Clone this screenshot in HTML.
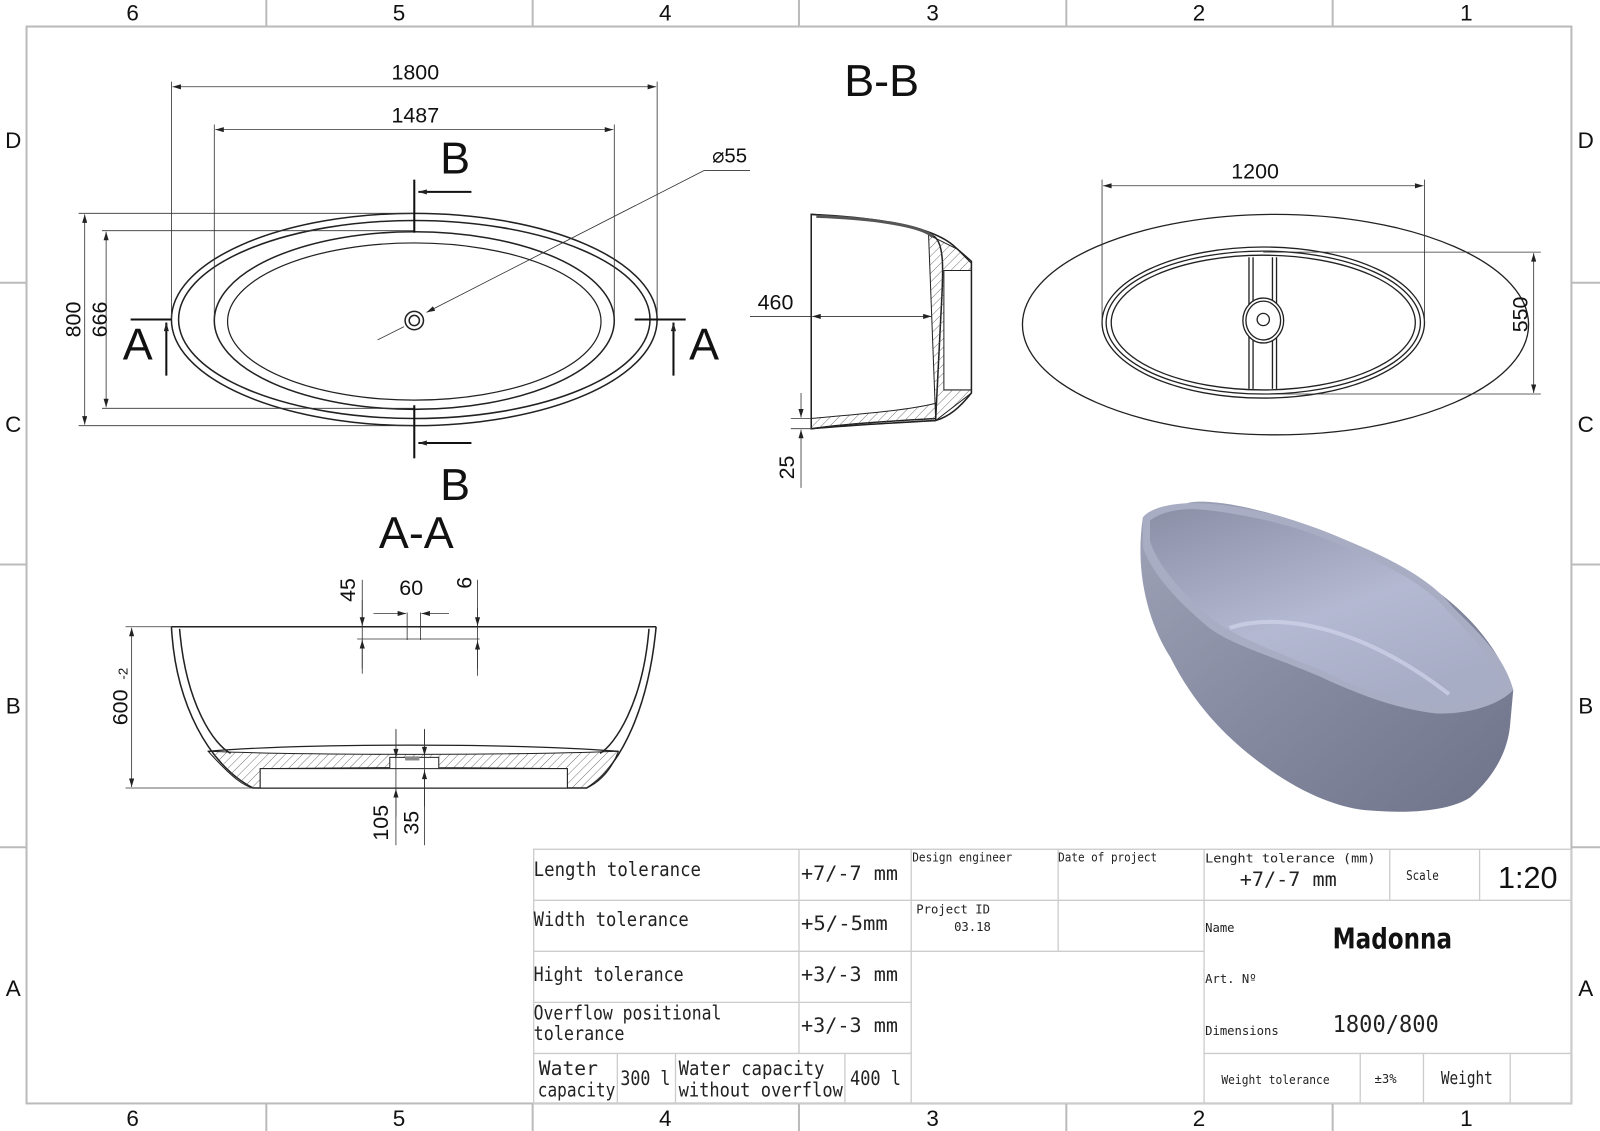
<!DOCTYPE html>
<html><head><meta charset="utf-8"><style>
html,body{margin:0;padding:0;background:#fff;}
svg{display:block;}
text{font-family:"Liberation Sans",sans-serif;fill:#111;}
.m{font-family:"DejaVu Sans Mono","Liberation Mono",monospace;fill:#222;}
</style></head><body>
<svg width="1600" height="1131" viewBox="0 0 1568 1108" preserveAspectRatio="none" xmlns="http://www.w3.org/2000/svg">
<defs>
<marker id="ar" viewBox="0 0 10 6" refX="10" refY="3" markerWidth="14" markerHeight="5" orient="auto-start-reverse" markerUnits="userSpaceOnUse"><path d="M0,0 L10,3 L0,6 Z" fill="#222"/></marker>
<pattern id="h" width="6" height="6" patternUnits="userSpaceOnUse" patternTransform="rotate(45)"><line x1="0" y1="0" x2="0" y2="6" stroke="#555" stroke-width="0.8"/></pattern>
<linearGradient id="tg" x1="0" y1="0" x2="1" y2="1"><stop offset="0" stop-color="#9ea3b8"/><stop offset="0.5" stop-color="#858aa0"/><stop offset="1" stop-color="#6f738a"/></linearGradient>
<linearGradient id="ig" x1="0" y1="0" x2="0.6" y2="1"><stop offset="0" stop-color="#8a8fa6"/><stop offset="0.6" stop-color="#b4b9d2"/><stop offset="1" stop-color="#a8adc6"/></linearGradient>
</defs>
<rect width="1568" height="1108" fill="#fff"/>
<g stroke="#bbb" stroke-width="2" fill="none">
<rect x="26" y="26" width="1514" height="1055"/>
<line x1="261" y1="0" x2="261" y2="26"/><line x1="522" y1="0" x2="522" y2="26"/><line x1="783" y1="0" x2="783" y2="26"/><line x1="1045" y1="0" x2="1045" y2="26"/><line x1="1306" y1="0" x2="1306" y2="26"/>
<line x1="261" y1="1081" x2="261" y2="1108"/><line x1="522" y1="1081" x2="522" y2="1108"/><line x1="783" y1="1081" x2="783" y2="1108"/><line x1="1045" y1="1081" x2="1045" y2="1108"/><line x1="1306" y1="1081" x2="1306" y2="1108"/>
<line x1="0" y1="277" x2="26" y2="277"/><line x1="0" y1="553" x2="26" y2="553"/><line x1="0" y1="830" x2="26" y2="830"/>
<line x1="1540" y1="277" x2="1568" y2="277"/><line x1="1540" y1="553" x2="1568" y2="553"/><line x1="1540" y1="830" x2="1568" y2="830"/>
</g>
<g font-size="22" text-anchor="middle">
<text x="130" y="20">6</text><text x="391" y="20">5</text><text x="652" y="20">4</text><text x="914" y="20">3</text><text x="1175" y="20">2</text><text x="1437" y="20">1</text>
<text x="130" y="1103">6</text><text x="391" y="1103">5</text><text x="652" y="1103">4</text><text x="914" y="1103">3</text><text x="1175" y="1103">2</text><text x="1437" y="1103">1</text>
<text x="13" y="145">D</text><text x="13" y="423">C</text><text x="13" y="699">B</text><text x="13" y="976">A</text>
<text x="1554" y="145">D</text><text x="1554" y="423">C</text><text x="1554" y="699">B</text><text x="1554" y="976">A</text>
</g>

<!-- plan view -->
<g fill="none" stroke="#222" stroke-width="1.5">
<ellipse cx="406" cy="313" rx="238" ry="104"/>
<ellipse cx="406" cy="313" rx="231" ry="97"/>
<ellipse cx="406" cy="314" rx="196" ry="87"/>
<ellipse cx="406" cy="315" rx="183" ry="77" stroke-width="1.2"/>
<circle cx="406" cy="314" r="9"/><circle cx="406" cy="314" r="5"/>
</g>
<g stroke="#333" stroke-width="0.8" fill="none">
<line x1="168" y1="80" x2="168" y2="313"/><line x1="644" y1="80" x2="644" y2="313"/>
<line x1="169" y1="85" x2="643" y2="85" marker-start="url(#ar)" marker-end="url(#ar)"/>
<line x1="210" y1="122" x2="210" y2="313"/><line x1="602" y1="122" x2="602" y2="313"/>
<line x1="211" y1="127" x2="601" y2="127" marker-start="url(#ar)" marker-end="url(#ar)"/>
<line x1="77" y1="209" x2="406" y2="209"/><line x1="77" y1="417" x2="406" y2="417"/>
<line x1="83" y1="210" x2="83" y2="416" marker-start="url(#ar)" marker-end="url(#ar)"/>
<line x1="100" y1="226" x2="406" y2="226"/><line x1="100" y1="400" x2="406" y2="400"/>
<line x1="104" y1="227" x2="104" y2="399" marker-start="url(#ar)" marker-end="url(#ar)"/>
<line x1="735" y1="167" x2="690" y2="167"/><line x1="690" y1="167" x2="418" y2="306" marker-end="url(#ar)"/>
<line x1="396" y1="320" x2="370" y2="333"/>
</g>
<g stroke="#111" stroke-width="2" fill="none">
<line x1="406" y1="176" x2="406" y2="228"/><line x1="406" y1="397" x2="406" y2="449"/>
<line x1="462" y1="188" x2="410" y2="188" marker-end="url(#ar)"/>
<line x1="462" y1="434" x2="410" y2="434" marker-end="url(#ar)"/>
<line x1="128" y1="313" x2="168" y2="313"/><line x1="163" y1="368" x2="163" y2="316" marker-end="url(#ar)"/>
<line x1="622" y1="313" x2="672" y2="313"/><line x1="660" y1="368" x2="660" y2="316" marker-end="url(#ar)"/>
</g>
<g text-anchor="middle">
<text x="407" y="78" font-size="21">1800</text>
<text x="407" y="120" font-size="21">1487</text>
<text x="715" y="159" font-size="20">⌀55</text>
<text x="446" y="170" font-size="44">B</text>
<text x="446" y="490" font-size="44">B</text>
<text x="135" y="352" font-size="44">A</text>
<text x="690" y="352" font-size="44">A</text>
<text x="864" y="94" font-size="44">B-B</text>
<text x="408" y="537" font-size="44">A-A</text>
<text transform="translate(79,313) rotate(-90)" font-size="21">800</text>
<text transform="translate(105,313) rotate(-90)" font-size="21">666</text>
</g>

<!-- A-A section -->
<g stroke="#222" stroke-width="1.5" fill="none">
<path d="M168,614 L643,614"/>
<path d="M168,614 C172,690 205,750 248,772 L575,772 C610,750 636,690 643,614"/>
<path d="M176,616 C182,690 210,730 226,738"/>
<path d="M636,616 C630,690 602,730 588,738"/>
</g>
<path d="M204,736 C230,765 240,770 248,772 L255,772 L255,753 L382,752 L382,742 L430,742 L430,752 L556,753 L556,772 L575,772 C590,765 600,752 606,736 C500,740 300,740 204,736 Z" fill="url(#h)" stroke="#222" stroke-width="1"/>
<path d="M204,736 C300,728 500,728 606,736" fill="none" stroke="#222" stroke-width="1.2"/>
<rect x="255" y="753" width="301" height="19" fill="#fff" stroke="#222" stroke-width="1"/>
<rect x="397" y="741" width="14" height="4" fill="#888"/>
<g stroke="#333" stroke-width="0.8" fill="none">
<line x1="123" y1="614" x2="168" y2="614"/><line x1="123" y1="772" x2="248" y2="772"/>
<line x1="129" y1="615" x2="129" y2="771" marker-start="url(#ar)" marker-end="url(#ar)"/>
<line x1="355" y1="568" x2="355" y2="660"/><line x1="355" y1="588" x2="355" y2="613" marker-end="url(#ar)"/>
<line x1="355" y1="655" x2="355" y2="627" marker-end="url(#ar)"/>
<line x1="350" y1="626" x2="470" y2="626"/>
<line x1="468" y1="568" x2="468" y2="662"/><line x1="468" y1="596" x2="468" y2="613" marker-end="url(#ar)"/><line x1="468" y1="655" x2="468" y2="628" marker-end="url(#ar)"/>
<line x1="399" y1="600" x2="399" y2="627"/><line x1="412" y1="600" x2="412" y2="627"/>
<line x1="366" y1="601" x2="398" y2="601" marker-end="url(#ar)"/><line x1="440" y1="601" x2="413" y2="601" marker-end="url(#ar)"/>
<line x1="388" y1="714" x2="388" y2="828"/><line x1="388" y1="715" x2="388" y2="742" marker-end="url(#ar)"/><line x1="388" y1="800" x2="388" y2="773" marker-end="url(#ar)"/>
<line x1="416" y1="714" x2="416" y2="828"/><line x1="416" y1="715" x2="416" y2="740" marker-end="url(#ar)"/><line x1="416" y1="790" x2="416" y2="755" marker-end="url(#ar)"/>
</g>
<g text-anchor="middle" font-size="21">
<text x="403" y="583">60</text>
<text transform="translate(348,578) rotate(-90)">45</text>
<text transform="translate(462,571) rotate(-90)">6</text>
<text transform="translate(125,693) rotate(-90)">600</text>
<text transform="translate(125,660) rotate(-90)" font-size="13">-2</text>
<text transform="translate(380,806) rotate(-90)">105</text>
<text transform="translate(410,806) rotate(-90)">35</text>
</g>

<!-- B-B section -->
<path d="M795,210 C840,213 900,220 916,232 C925,240 925,260 922,310 L917,410 C880,412 830,415 795,420 Z" fill="#fff" stroke="#222" stroke-width="1.5"/>
<path d="M795,210 C860,213 915,222 936,242 L952,256 L952,385 C940,400 930,408 917,412 C880,414 830,417 795,420" fill="none" stroke="#222" stroke-width="1.5"/>
<path d="M910,230 L938,244 L952,258 L952,265 L925,265 L925,382 L952,382 L952,385 L917,412 Z" fill="url(#h)" stroke="#222" stroke-width="1"/>
<path d="M795,410 C840,406 890,402 917,395 L917,412 C880,414 830,417 795,420 Z" fill="url(#h)" stroke="#222" stroke-width="1"/>
<path d="M800,212 C860,214 905,222 914,232" fill="none" stroke="#555" stroke-width="3"/>
<g stroke="#333" stroke-width="0.8" fill="none">
<line x1="735" y1="310" x2="795" y2="310"/>
<line x1="796" y1="310" x2="913" y2="310" marker-start="url(#ar)" marker-end="url(#ar)"/>
<line x1="775" y1="410" x2="795" y2="410"/><line x1="775" y1="420" x2="795" y2="420"/>
<line x1="785" y1="385" x2="785" y2="409" marker-end="url(#ar)"/><line x1="785" y1="478" x2="785" y2="421" marker-end="url(#ar)"/>
</g>
<text x="760" y="303" font-size="21" text-anchor="middle">460</text>
<text transform="translate(778,458) rotate(-90)" font-size="21" text-anchor="middle">25</text>

<!-- top view -->
<g fill="none" stroke="#222" stroke-width="1.3">
<ellipse cx="1250" cy="318" rx="248" ry="108"/>
<ellipse cx="1238" cy="316" rx="158" ry="74"/>
<ellipse cx="1238" cy="316" rx="154" ry="70"/>
<ellipse cx="1238" cy="316" rx="149" ry="66"/>
<line x1="1224" y1="252" x2="1224" y2="381"/><line x1="1228" y1="252" x2="1228" y2="381"/>
<line x1="1247" y1="252" x2="1247" y2="381"/><line x1="1251" y1="252" x2="1251" y2="381"/>
<ellipse cx="1238" cy="314" rx="20" ry="22" fill="#fff"/>
<ellipse cx="1238" cy="314" rx="17" ry="19"/>
<circle cx="1238" cy="313" r="6"/>
</g>
<g stroke="#333" stroke-width="0.8" fill="none">
<line x1="1080" y1="176" x2="1080" y2="316"/><line x1="1396" y1="176" x2="1396" y2="316"/>
<line x1="1081" y1="182" x2="1395" y2="182" marker-start="url(#ar)" marker-end="url(#ar)"/>
<line x1="1238" y1="247" x2="1510" y2="247"/><line x1="1238" y1="386" x2="1510" y2="386"/>
<line x1="1503" y1="248" x2="1503" y2="385" marker-start="url(#ar)" marker-end="url(#ar)"/>
</g>
<text x="1230" y="175" font-size="21" text-anchor="middle">1200</text>
<text transform="translate(1497,308) rotate(-90)" font-size="21" text-anchor="middle">550</text>

<!-- 3D tub -->
<path d="M1120,507 C1112,560 1125,610 1147,644 C1170,690 1200,720 1228,742 C1270,775 1310,792 1343,794 C1390,798 1425,792 1441,781 C1465,760 1478,735 1480,709 L1483,676 C1460,610 1400,560 1294,519 C1230,495 1180,488 1163,493 C1140,496 1125,500 1120,507 Z" fill="url(#tg)"/>
<path d="M1120,507 C1125,500 1140,494 1163,493 C1200,492 1250,502 1294,519 C1360,545 1400,565 1424,595 C1450,620 1475,645 1483,676 C1470,690 1440,700 1408,699 C1370,695 1330,680 1294,663 C1240,640 1200,630 1179,610 C1150,585 1128,560 1120,536 Z" fill="#a9adc4"/>
<path d="M1127,510 C1140,500 1160,498 1175,499 C1210,502 1260,512 1294,526 C1360,552 1400,575 1420,600 C1445,625 1465,650 1474,672 C1460,685 1435,692 1408,692 C1370,688 1330,675 1298,658 C1245,636 1205,622 1184,603 C1158,580 1135,555 1127,530 Z" fill="url(#ig)"/>
<path d="M1205,615 C1260,598 1340,618 1420,680" fill="none" stroke="#d0d4ea" stroke-width="4" opacity="0.7"/>

<!-- table -->
<g stroke="#ccc" stroke-width="1.3" fill="none">
<rect x="523" y="832" width="1017" height="249"/>
<line x1="523" y1="882" x2="1180" y2="882"/><line x1="523" y1="932" x2="1180" y2="932"/>
<line x1="523" y1="982" x2="893" y2="982"/><line x1="523" y1="1032" x2="893" y2="1032"/>
<line x1="783" y1="832" x2="783" y2="1032"/><line x1="893" y1="832" x2="893" y2="1081"/>
<line x1="1037" y1="832" x2="1037" y2="932"/>
<line x1="605" y1="1032" x2="605" y2="1081"/><line x1="662" y1="1032" x2="662" y2="1081"/><line x1="828" y1="1032" x2="828" y2="1081"/>
<line x1="1180" y1="832" x2="1180" y2="1081"/>
<line x1="1180" y1="882" x2="1540" y2="882"/><line x1="1362" y1="832" x2="1362" y2="882"/><line x1="1450" y1="832" x2="1450" y2="882"/>
<line x1="1180" y1="1032" x2="1540" y2="1032"/>
<line x1="1333" y1="1032" x2="1333" y2="1081"/><line x1="1395" y1="1032" x2="1395" y2="1081"/><line x1="1480" y1="1032" x2="1480" y2="1081"/>
</g>
<g class="m" lengthAdjust="spacingAndGlyphs">
<text x="523" y="858" font-size="19" class="m" textLength="164" lengthAdjust="spacingAndGlyphs">Length tolerance</text>
<text x="785" y="862" font-size="19" class="m" textLength="95" lengthAdjust="spacingAndGlyphs">+7/-7 mm</text>
<text x="523" y="907" font-size="19" class="m" textLength="152" lengthAdjust="spacingAndGlyphs">Width tolerance</text>
<text x="785" y="911" font-size="19" class="m" textLength="85" lengthAdjust="spacingAndGlyphs">+5/-5mm</text>
<text x="523" y="961" font-size="19" class="m" textLength="147" lengthAdjust="spacingAndGlyphs">Hight tolerance</text>
<text x="785" y="961" font-size="19" class="m" textLength="95" lengthAdjust="spacingAndGlyphs">+3/-3 mm</text>
<text x="523" y="999" font-size="19" class="m" textLength="184" lengthAdjust="spacingAndGlyphs">Overflow positional</text>
<text x="523" y="1019" font-size="19" class="m" textLength="89" lengthAdjust="spacingAndGlyphs">tolerance</text>
<text x="785" y="1011" font-size="19" class="m" textLength="95" lengthAdjust="spacingAndGlyphs">+3/-3 mm</text>
<text x="528" y="1053" font-size="19" class="m" textLength="58" lengthAdjust="spacingAndGlyphs">Water</text>
<text x="527" y="1074" font-size="19" class="m" textLength="76" lengthAdjust="spacingAndGlyphs">capacity</text>
<text x="608" y="1063" font-size="19" class="m" textLength="49" lengthAdjust="spacingAndGlyphs">300 l</text>
<text x="665" y="1053" font-size="19" class="m" textLength="143" lengthAdjust="spacingAndGlyphs">Water capacity</text>
<text x="665" y="1074" font-size="19" class="m" textLength="161" lengthAdjust="spacingAndGlyphs">without overflow</text>
<text x="833" y="1063" font-size="19" class="m" textLength="50" lengthAdjust="spacingAndGlyphs">400 l</text>
<text x="894" y="844" font-size="12" class="m" textLength="98" lengthAdjust="spacingAndGlyphs">Design engineer</text>
<text x="1037" y="844" font-size="12" class="m" textLength="97" lengthAdjust="spacingAndGlyphs">Date of project</text>
<text x="898" y="895" font-size="12" class="m">Project ID</text>
<text x="935" y="912" font-size="12" class="m">03.18</text>
<text x="1181" y="845" font-size="12" class="m" textLength="167" lengthAdjust="spacingAndGlyphs">Lenght tolerance (mm)</text>
<text x="1215" y="868" font-size="19" class="m" textLength="95" lengthAdjust="spacingAndGlyphs">+7/-7 mm</text>
<text x="1378" y="862" font-size="13" class="m" textLength="32" lengthAdjust="spacingAndGlyphs">Scale</text>
<text x="1468" y="870" font-size="30" style="font-family:'Liberation Sans',sans-serif">1:20</text>
<text x="1181" y="913" font-size="12" class="m">Name</text>
<text x="1306" y="929" font-size="28" font-weight="bold" style="font-family:'DejaVu Sans',sans-serif" textLength="117" lengthAdjust="spacingAndGlyphs">Madonna</text>
<text x="1181" y="963" font-size="12" class="m">Art. Nº</text>
<text x="1181" y="1014" font-size="12" class="m">Dimensions</text>
<text x="1306" y="1011" font-size="23" class="m" textLength="104" lengthAdjust="spacingAndGlyphs">1800/800</text>
<text x="1197" y="1062" font-size="12" class="m" textLength="106" lengthAdjust="spacingAndGlyphs">Weight tolerance</text>
<text x="1347" y="1061" font-size="12" class="m">±3%</text>
<text x="1412" y="1062" font-size="17" class="m" textLength="51" lengthAdjust="spacingAndGlyphs">Weight</text>
</g>
</svg>
</body></html>
